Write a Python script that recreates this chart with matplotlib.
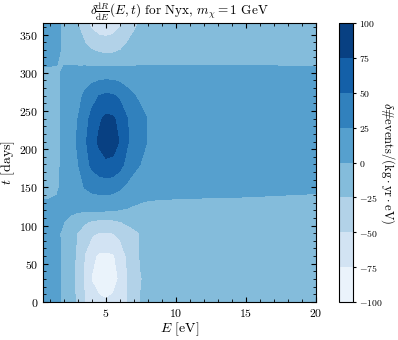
import numpy as np
import matplotlib
matplotlib.use("Agg")
import matplotlib.pyplot as plt
from matplotlib.ticker import MultipleLocator

plt.rcParams["font.family"] = "serif"
plt.rcParams["font.serif"] = ["cmr10", "DejaVu Serif"]
plt.rcParams["mathtext.fontset"] = "cm"
plt.rcParams["axes.formatter.use_mathtext"] = True

# energy grid [eV] and time grid [days]
E_vals = [0.5, 1.0, 1.5, 2.0, 2.5, 3.0, 3.5, 4.0, 4.5, 5.0, 5.5, 6.0, 6.5, 7.0,
          7.5, 8.0, 9.0, 10.0, 12.0, 15.0, 20.0]
t_vals = [0, 30, 60, 90, 105, 120, 150, 180, 210, 240, 270, 300, 330, 365]

# delta dR/dE, one row per time
rate_t000 = [12, 11, 5, -5, -16, -30, -50, -62, -70, -73, -70, -63, -50, -36, -24, -18, -16, -15, -14, -13, -12]
rate_t030 = [14, 12, 5, -6, -18, -34, -56, -77, -86, -88, -84, -72, -52, -38, -26, -20, -18, -17, -16, -15, -14]
rate_t060 = [12, 10, 4, -5, -16, -31, -52, -70, -79, -80, -78, -66, -48, -34, -23, -18, -16, -15, -14, -13, -12]
rate_t090 = [9, 8, 3, -4, -14, -27, -38, -47, -51, -52, -50, -44, -36, -30, -24, -15, -12, -11, -10, -10, -9]
rate_t105 = [8, 7, 3, 0, -6, -14, -22, -28, -31, -32, -30, -26, -21, -17, -14, -11, -10, -9, -9, -8, -8]
rate_t120 = [4, 5, 4, 4, 4, 3, 3, 3, 3, 2, 1, -1, -2, -4, -5, -6, -7, -7, -7, -7, -8]
rate_t150 = [-5, -5, -2, 4, 10, 18, 26, 32, 35, 36, 34, 28, 20, 14, 10, 8, 8, 7, 6, 5, 3]
rate_t180 = [-10, -9, -4, 5, 14, 24, 40, 55, 65, 70, 68, 58, 42, 31, 24, 19, 16, 15, 14, 13, 12]
rate_t210 = [-16, -14, -6, 6, 17, 28, 46, 64, 79, 89, 87, 73, 53, 40, 31, 24, 20, 19, 18, 17, 16]
rate_t240 = [-14, -12, -5, 5, 15, 25, 41, 57, 71, 80, 78, 67, 51, 40, 31, 24, 19, 18, 17, 16, 15]
rate_t270 = [-9, -8, -3, 3, 10, 17, 30, 41, 50, 54, 52, 45, 34, 26, 20, 16, 13, 12, 12, 11, 10]
rate_t300 = [-2, -2, -1, 1, 3, 5, 8, 10, 12, 12, 12, 10, 8, 6, 5, 4, 3, 3, 3, 3, 2]
rate_t330 = [6, 5, 2, -2, -6, -12, -19, -25, -30, -32, -31, -26, -20, -15, -11, -8, -7, -7, -6, -6, -6]
rate_t365 = [12, 10, 4, -4, -14, -26, -44, -58, -66, -68, -64, -54, -40, -30, -22, -16, -13, -12, -11, -11, -10]

rate = np.array([rate_t000, rate_t030, rate_t060, rate_t090, rate_t105, rate_t120,
                 rate_t150, rate_t180, rate_t210, rate_t240, rate_t270, rate_t300,
                 rate_t330, rate_t365], dtype=float)
levels = np.arange(-100, 101, 25)

fig = plt.figure(figsize=(3.98, 3.40), dpi=100)
ax = fig.add_axes([0.108, 0.112, 0.686, 0.820])
cax = fig.add_axes([0.852, 0.112, 0.035, 0.820])

cs = ax.contourf(E_vals, t_vals, rate, levels=levels, cmap="Blues")
ax.set_xlim(0.5, 20)
ax.set_ylim(0, 365)

ax.set_title(r"$\delta\frac{\mathrm{d}R}{\mathrm{d}E}(E,t)$ for Nyx, $m_\chi = 1$ GeV", fontsize=9.5, pad=3)
ax.set_xlabel(r"$E$ [eV]", fontsize=10, labelpad=1)
ax.set_ylabel(r"$t$ [days]", fontsize=10, labelpad=1)

ax.xaxis.set_major_locator(MultipleLocator(5))
ax.xaxis.set_minor_locator(MultipleLocator(1))
ax.yaxis.set_major_locator(MultipleLocator(50))
ax.yaxis.set_minor_locator(MultipleLocator(10))
ax.tick_params(which="both", direction="in", top=True, right=True, labelsize=8.5)
ax.tick_params(which="major", length=3.5)
ax.tick_params(which="minor", length=2)

cb = fig.colorbar(cs, cax=cax, ticks=levels)
cb.ax.tick_params(labelsize=7, length=2.5, pad=2)
cb.set_label(r"$\delta\#\mathrm{events}/(\mathrm{kg}\cdot\mathrm{yr}\cdot\mathrm{eV})$",
             fontsize=9, rotation=270, labelpad=10)

fig.savefig("out.png", dpi=100)
